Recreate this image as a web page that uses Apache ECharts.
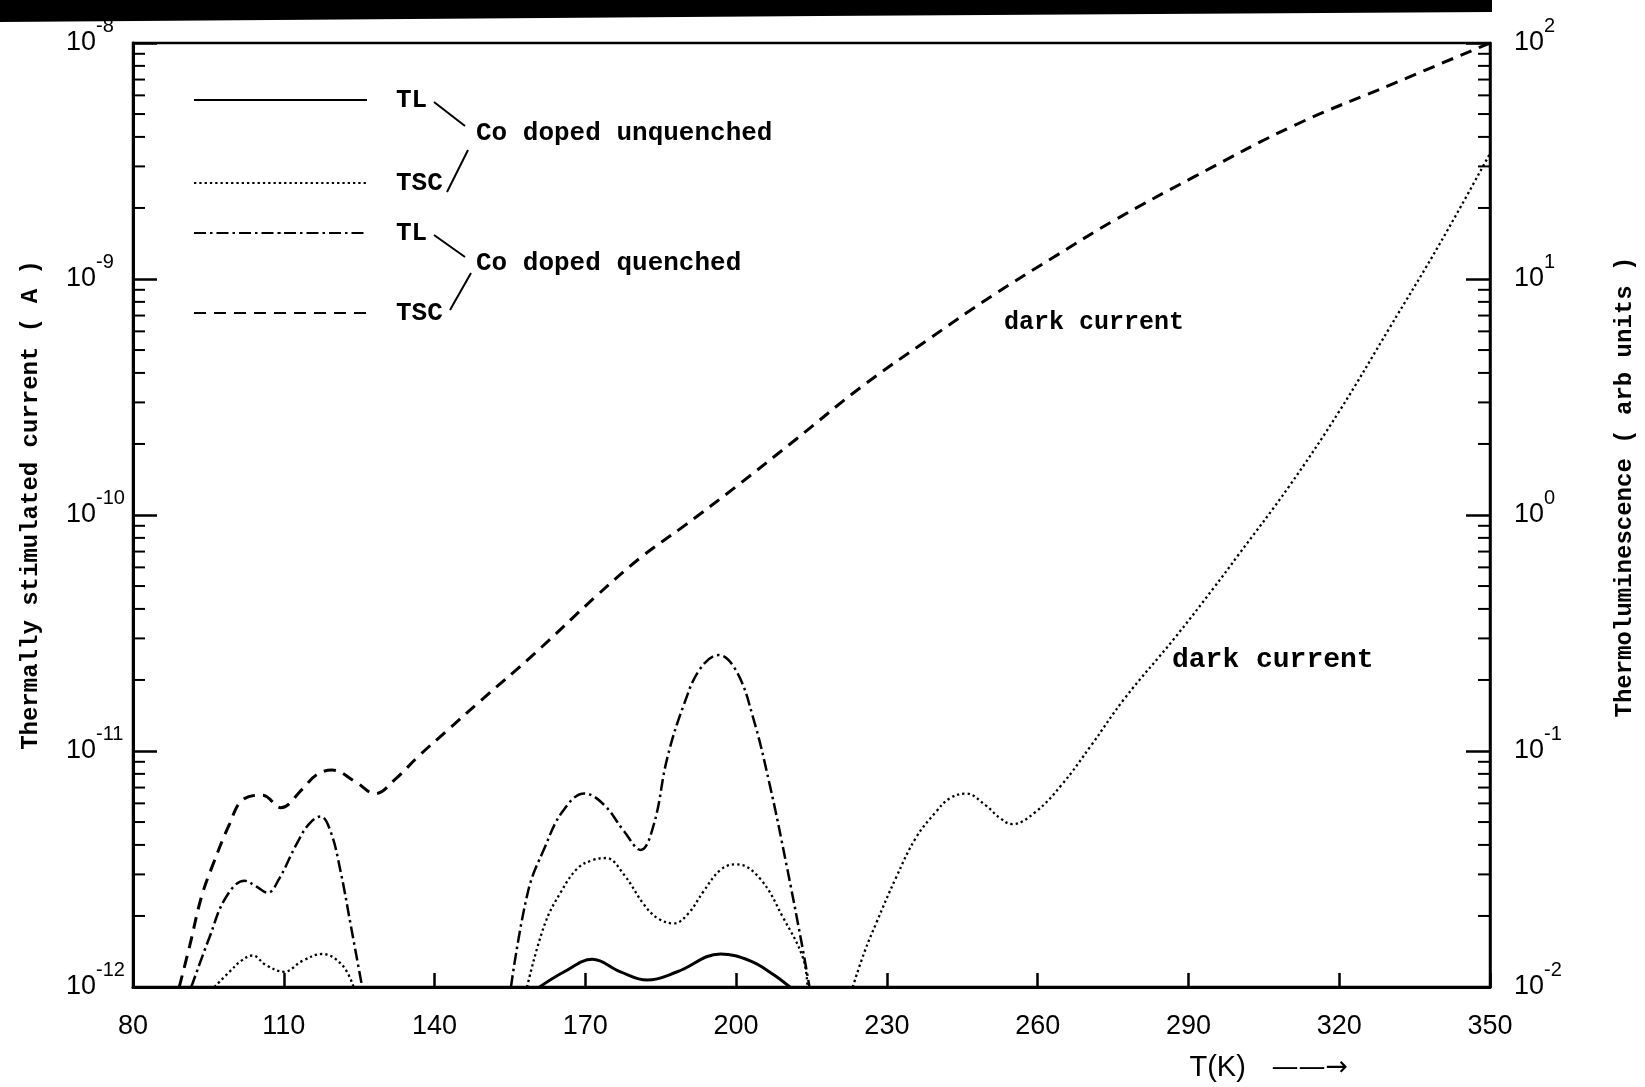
<!DOCTYPE html>
<html><head><meta charset="utf-8">
<script src="https://cdn.jsdelivr.net/npm/echarts/dist/echarts.min.js"></script>
<style>html,body{margin:0;padding:0;background:#fff}#c{width:1645px;height:1087px}</style>
</head><body><div id="c"></div>
<script>
// ---------------- data ----------------
// Temperature axis ticks (K)
const xTicks = [80, 110, 140, 170, 200, 230, 260, 290, 320, 350];
// decades of the two log axes
const leftDecades = [-12, -11, -10, -9];   // TSC (A)
const rightDecades = [-2, -1, 0, 1];       // TL (arb units)
const minorMultipliers = [2, 3, 4, 5, 6, 7, 8, 9];

// TL, Co doped unquenched (solid) - right axis
const tlUnqT = [160.9, 165.8, 171.4, 177.0, 182.3, 188.3, 196.9, 202.8, 207.4, 210.7];
const tlUnqV = [0.0100, 0.0116, 0.0131, 0.0116, 0.0107, 0.0116, 0.0138, 0.0129, 0.0113, 0.0100];

// TSC, Co doped unquenched (dotted) - left axis (null = gap)
const tscUnqT = [96.2, 99.2, 101.5, 103.8, 106.4, 110.1, 113.7, 117.6, 121.6, 123.9,
  140,
  158.4, 161.9, 165.2, 168.5, 171.5, 174.1, 177.7, 181.7, 184.5, 187.6, 190.5, 193.5, 197.0, 200.1, 204.7, 209.4, 213.3, 214.2,
  218,
  223.2, 225.5, 227.9, 231.8, 235.8, 239.7, 242.5, 245.7, 249.6, 252.5, 254.9, 259.5, 264.8, 270.7, 277.3, 287.2, 295, 300, 310, 320, 330, 340, 350];
const tscUnqV = [1.0e-12, 1.16e-12, 1.29e-12, 1.36e-12, 1.24e-12, 1.16e-12, 1.29e-12, 1.38e-12, 1.24e-12, 1.0e-12,
  null,
  1.0e-12, 1.84e-12, 2.54e-12, 3.19e-12, 3.45e-12, 3.52e-12, 2.99e-12, 2.23e-12, 1.95e-12, 1.86e-12, 2.05e-12, 2.54e-12, 3.15e-12, 3.31e-12, 2.89e-12, 1.96e-12, 1.33e-12, 1.0e-12,
  null,
  1.0e-12, 1.4e-12, 1.87e-12, 2.9e-12, 4.3e-12, 5.5e-12, 6.3e-12, 6.6e-12, 5.9e-12, 5.2e-12, 4.9e-12, 5.5e-12, 7.2e-12, 1.06e-11, 1.67e-11, 3.0e-11, 4.9e-11, 6.8e-11, 1.32e-10, 2.75e-10, 6.2e-10, 1.41e-9, 3.4e-9];

// TL, Co doped quenched (dash-dot) - right axis
const tlQT = [91.6, 95.2, 98.5, 102.2, 104.5, 106.8, 109.1, 112.4, 115.0, 117.3, 119.3, 121.3, 123.3, 125.6,
  140,
  155.2, 158.6, 161.9, 165.5, 169.8, 173.7, 177.7, 181.0, 183.6, 186.3, 189.6, 192.9, 196.5, 200.1, 203.4, 206.7, 210.0, 213.0, 214.6];
const tlQV = [0.0100, 0.0162, 0.0240, 0.0282, 0.0267, 0.0251, 0.0288, 0.0398, 0.0490, 0.0528, 0.0457, 0.0309, 0.0184, 0.0100,
  null,
  0.0100, 0.0254, 0.0389, 0.0555, 0.0660, 0.0592, 0.0457, 0.0381, 0.0486, 0.0933, 0.157, 0.224, 0.255, 0.217, 0.138, 0.0718, 0.0331, 0.0155, 0.0100];

// TSC, Co doped quenched (dashed) - left axis
const tscQT = [89.2, 91.3, 93.6, 95.9, 99.2, 101.8, 105.8, 109.4, 113.7, 116.4, 119.6, 124.3, 128.2, 132.2, 136.8, 142.1, 149, 160, 172, 181, 190, 200, 212, 225, 238, 251, 263, 275, 291, 311, 331, 350];
const tscQV = [1.0e-12, 1.5e-12, 2.4e-12, 3.3e-12, 4.9e-12, 6.2e-12, 6.5e-12, 5.75e-12, 6.9e-12, 7.9e-12, 8.3e-12, 7.4e-12, 6.6e-12, 7.6e-12, 9.5e-12, 1.2e-11, 1.62e-11, 2.6e-11, 4.5e-11, 6.6e-11, 9.1e-11, 1.32e-10, 2.1e-10, 3.5e-10, 5.5e-10, 8.5e-10, 1.23e-9, 1.76e-9, 2.7e-9, 4.47e-9, 6.76e-9, 1.0e-8];

// ---------------- chart ----------------
const MONO = "'Liberation Mono', 'DejaVu Sans Mono', monospace";
const NARROW = "'Liberation Sans Narrow', 'Liberation Sans', 'DejaVu Sans', sans-serif";
const pairs = (t, v) => t.map((x, i) => [x, v[i]]);
const minorVals = decs => decs.flatMap(d => minorMultipliers.map(m => m * Math.pow(10, d)));

const expLabel = v => '{b|10}{s|' + Math.round(Math.log10(v)) + '}';
const labelRich = {
  b: { fontSize: 27, fontFamily: NARROW, color: '#000', lineHeight: 54 },
  s: { fontSize: 20, fontFamily: NARROW, color: '#000', lineHeight: 20, verticalAlign: 'top' }
};

function minorTickSeries(yIdx, xVal, dir, values) {
  return {
    type: 'custom', yAxisIndex: yIdx, silent: true, clip: false, z: 5,
    data: values.map(v => [xVal, v]),
    renderItem: (params, api) => {
      const p = api.coord([api.value(0), api.value(1)]);
      return { type: 'line', shape: { x1: p[0], y1: p[1], x2: p[0] + dir * 12, y2: p[1] },
               style: { stroke: '#000', lineWidth: 2 } };
    }
  };
}

const legendText = { fontFamily: MONO, fontWeight: 'bold', fontSize: 26, color: '#000', lineHeight: 26, padding: [0, 0, 0, 24] };

const option = {
  animation: false,
  backgroundColor: '#fff',
  grid: { left: 133, right: 148, top: 43, bottom: 98, show: true, borderColor: '#000', borderWidth: 2.5, backgroundColor: 'transparent' },
  legend: [
    { data: ['TL unquenched', 'TSC unquenched'], orient: 'vertical', left: 193, top: 87, padding: 0,
      itemWidth: 173, itemHeight: 2, itemGap: 57, textStyle: legendText, formatter: n => n.split(' ')[0] },
    { data: ['TL quenched', 'TSC quenched'], orient: 'vertical', left: 193, top: 220, padding: 0,
      itemWidth: 173, itemHeight: 2, itemGap: 54, textStyle: legendText, formatter: n => n.split(' ')[0] }
  ],
  xAxis: {
    type: 'value', min: 80, max: 350, interval: 30,
    name: '{t|T(K)}{a|   \u2014\u2014\u2192}', nameLocation: 'middle', nameGap: 66,
    nameTextStyle: { align: 'left', padding: [0, 0, 0, 378],
      rich: { t: { fontFamily: NARROW, fontSize: 29, color: '#000' },
              a: { fontFamily: "'DejaVu Sans', sans-serif", fontSize: 27, color: '#000' } } },
    axisLine: { lineStyle: { color: '#000', width: 3 } },
    axisTick: { inside: true, length: 14, lineStyle: { color: '#000', width: 2.5 } },
    axisLabel: { margin: 26, fontFamily: NARROW, fontSize: 27, color: '#000' },
    splitLine: { show: false }
  },
  yAxis: [
    {
      type: 'log', logBase: 10, min: 1e-12, max: 1e-8, position: 'left',
      name: 'Thermally stimulated current ( A )', nameLocation: 'middle', nameGap: 90, nameRotate: 90,
      nameTextStyle: { fontFamily: MONO, fontWeight: 'bold', fontSize: 24, color: '#000', padding: [0, 0, 0, 20] },
      axisLine: { show: true, lineStyle: { color: '#000', width: 3 } },
      axisTick: { show: true, inside: true, length: 24, lineStyle: { color: '#000', width: 2.5 } },
      axisLabel: { align: 'left', margin: 67, formatter: expLabel, rich: labelRich, showMinLabel: true, showMaxLabel: true },
      splitLine: { show: false }
    },
    {
      type: 'log', logBase: 10, min: 1e-2, max: 1e2, position: 'right',
      name: 'Thermoluminescence ( arb units )', nameLocation: 'middle', nameGap: 123, nameRotate: 90,
      nameTextStyle: { fontFamily: MONO, fontWeight: 'bold', fontSize: 24, color: '#000', padding: [0, 0, 0, 56] },
      axisLine: { show: true, lineStyle: { color: '#000', width: 2.5 } },
      axisTick: { show: true, inside: true, length: 24, lineStyle: { color: '#000', width: 2.5 } },
      axisLabel: { align: 'left', margin: 24, formatter: expLabel, rich: labelRich, showMinLabel: true, showMaxLabel: true },
      splitLine: { show: false }
    }
  ],
  series: [
    { name: 'TL unquenched', type: 'line', yAxisIndex: 1, data: pairs(tlUnqT, tlUnqV), smooth: 0.4, symbol: 'none',
      lineStyle: { color: '#000', width: 3, type: 'solid' }, itemStyle: { color: '#000' } },
    { name: 'TSC unquenched', type: 'line', yAxisIndex: 0, data: pairs(tscUnqT, tscUnqV), smooth: 0.4, symbol: 'none', connectNulls: false,
      lineStyle: { color: '#000', width: 2.3, type: [2.3, 3] }, itemStyle: { color: '#000' } },
    { name: 'TL quenched', type: 'line', yAxisIndex: 1, data: pairs(tlQT, tlQV), smooth: 0.4, symbol: 'none', connectNulls: false,
      lineStyle: { color: '#000', width: 2.5, type: [12, 4, 2.5, 4] }, itemStyle: { color: '#000' } },
    { name: 'TSC quenched', type: 'line', yAxisIndex: 0, data: pairs(tscQT, tscQV), smooth: 0.4, symbol: 'none',
      lineStyle: { color: '#000', width: 3, type: [12, 8] }, itemStyle: { color: '#000' } },
    minorTickSeries(0, 80, 1, minorVals(leftDecades)),
    minorTickSeries(1, 350, -1, minorVals(rightDecades))
  ],
  graphic: [
    { type: 'polygon', shape: { points: [[0, 0], [1492, 0], [1492, 12], [820, 16], [0, 22]] }, style: { fill: '#000' }, silent: true },
    { type: 'line', shape: { x1: 434, y1: 102, x2: 465, y2: 126 }, style: { stroke: '#000', lineWidth: 2 } },
    { type: 'line', shape: { x1: 468, y1: 150, x2: 447, y2: 192 }, style: { stroke: '#000', lineWidth: 2 } },
    { type: 'text', style: { x: 476, y: 133, text: 'Co doped unquenched', font: 'bold 26px ' + MONO, fill: '#000', verticalAlign: 'middle', align: 'left' } },
    { type: 'line', shape: { x1: 434, y1: 235, x2: 465, y2: 257 }, style: { stroke: '#000', lineWidth: 2 } },
    { type: 'line', shape: { x1: 471, y1: 273, x2: 450, y2: 310 }, style: { stroke: '#000', lineWidth: 2 } },
    { type: 'text', style: { x: 476, y: 263, text: 'Co doped quenched', font: 'bold 26px ' + MONO, fill: '#000', verticalAlign: 'middle', align: 'left' } },
    { type: 'text', style: { x: 1004, y: 323, text: 'dark current', font: 'bold 25px ' + MONO, fill: '#000', verticalAlign: 'middle', align: 'left' } },
    { type: 'text', style: { x: 1172, y: 660, text: 'dark current', font: 'bold 28px ' + MONO, fill: '#000', verticalAlign: 'middle', align: 'left' } }
  ]
};
const chart = echarts.init(document.getElementById('c'));
chart.setOption(option);
</script></body></html>
